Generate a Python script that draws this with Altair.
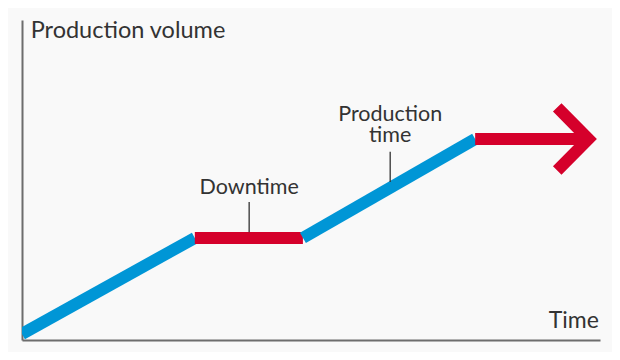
import altair as alt
import pandas as pd

# Knee points of the production curve (time %, volume %)
knee_time = [0, 29.9, 48.6, 78.4, 98.0]
knee_volume = [1.9, 31.9, 31.9, 62.8, 62.8]
segment_kind = ["production", "downtime", "production", "downtime"]

# Arrow head (chevron) points
arrow_time = [92.6, 98.0, 92.6]
arrow_volume = [72.7, 62.8, 53.0]

# Annotations
label_text = ["Downtime", "Production\ntime"]
label_time = [39.3, 63.7]
label_volume = [45.6, 68.3]
leader_time = [39.3, 63.7]
leader_top = [43.1, 58.8]
leader_bottom = [33.7, 49.4]

title_y_text = ["Production volume"]
title_x_text = ["Time"]

BLUE = "#0096d6"
RED = "#d5002b"
INK = "#333333"
BG = "#f9f9f9"

rows = []
for i, kind in enumerate(segment_kind):
    for j in (0, 1):
        rows.append({"seg": f"s{i}", "ord": j, "t": knee_time[i + j],
                     "v": knee_volume[i + j], "kind": kind})
for j, (t, v) in enumerate(zip(arrow_time, arrow_volume)):
    rows.append({"seg": "arrow", "ord": j, "t": t, "v": v, "kind": "downtime"})
lines = pd.DataFrame(rows)

xs = alt.Scale(domain=[0, 100], nice=False, zero=False)
ys = alt.Scale(domain=[0, 100], nice=False, zero=False)
noax = alt.Axis(ticks=False, labels=False, grid=False, title=None,
                domainColor="#6d6d6d", domainWidth=2)

base_x = alt.X("t:Q", scale=xs, axis=noax)
base_y = alt.Y("v:Q", scale=ys, axis=noax)

line = alt.Chart(lines).mark_line(strokeWidth=12, strokeCap="butt",
                                  strokeJoin="miter", clip=True).encode(
    x=base_x, y=base_y,
    detail="seg:N",
    order="ord:Q",
    color=alt.Color("kind:N", scale=alt.Scale(domain=["production", "downtime"],
                                              range=[BLUE, RED]), legend=None),
)

labels = pd.DataFrame({"text": label_text, "t": label_time, "v": label_volume})
lab = alt.Chart(labels).mark_text(font="Lato", fontSize=21.5, color=INK,
                                  align="center", baseline="alphabetic",
                                  lineBreak="\n", lineHeight=21).encode(
    x=alt.X("t:Q", scale=xs), y=alt.Y("v:Q", scale=ys), text="text:N")

leaders = pd.DataFrame({"t": leader_time, "v": leader_top, "v2": leader_bottom})
lead = alt.Chart(leaders).mark_rule(color=INK, strokeWidth=1.3).encode(
    x=alt.X("t:Q", scale=xs), y=alt.Y("v:Q", scale=ys), y2="v2:Q")

ttl_y = alt.Chart(pd.DataFrame({"text": title_y_text, "t": [1.5], "v": [94.5]})).mark_text(
    font="Lato", fontSize=23.5, color=INK, align="left", baseline="alphabetic").encode(
    x=alt.X("t:Q", scale=xs), y=alt.Y("v:Q", scale=ys), text="text:N")

ttl_x = alt.Chart(pd.DataFrame({"text": title_x_text, "t": [99.8], "v": [3.75]})).mark_text(
    font="Lato", fontSize=23, color=INK, align="right", baseline="alphabetic").encode(
    x=alt.X("t:Q", scale=xs), y=alt.Y("v:Q", scale=ys), text="text:N")

chart = alt.layer(line, lead, lab, ttl_y, ttl_x).properties(
    width=578, height=320,
    autosize=alt.AutoSizeParams(type="none"),
    padding={"left": 14, "top": 12, "right": 12, "bottom": 12},
    background=BG,
).configure_view(stroke=None)

chart.save("out.html", embed_options={"renderer": "svg", "actions": False})
